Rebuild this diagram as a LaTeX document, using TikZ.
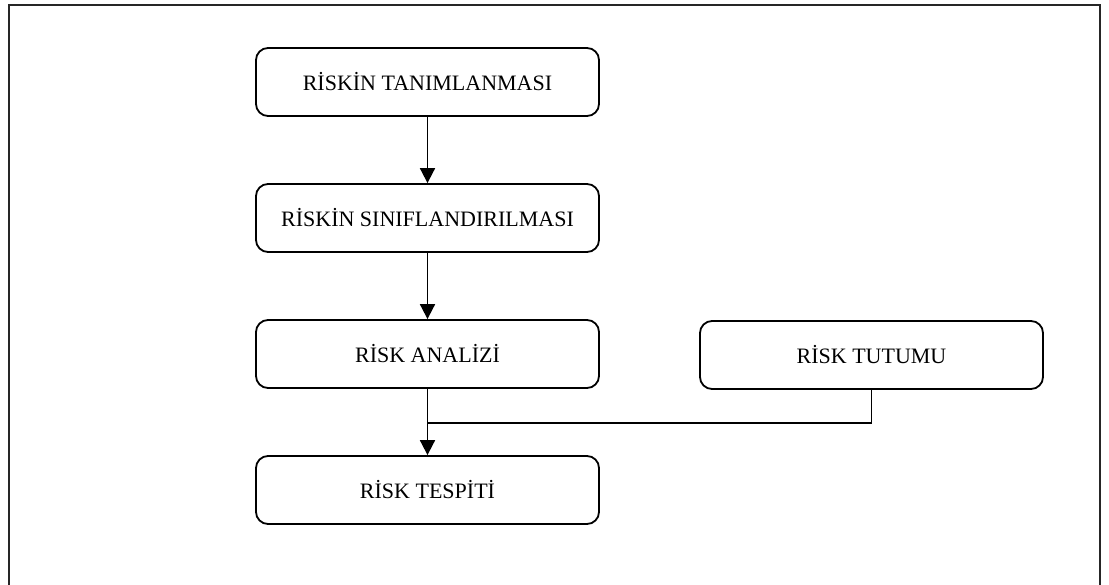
\documentclass[tikz,border=0pt]{standalone}
\usepackage{fontspec}
\setmainfont{Liberation Serif}
\usetikzlibrary{shapes,arrows.meta}

\tikzset{
	riskbox/.style={draw, rounded corners=12pt, line width=1.8pt,
		minimum width=343pt, minimum height=68pt, inner sep=0pt,
		font=\fontsize{22}{26}\selectfont},
	flow/.style={line width=1.8pt, -{Triangle[length=15pt,width=15pt]}},
	link/.style={line width=1.8pt}
}

\begin{document}
\begin{tikzpicture}[x=1pt,y=1pt]
		\useasboundingbox (0,0) rectangle (1109,-585);
		\def\ys{136} %distance between the boxes
		% open frame round the chart
		\draw [line width=1.8pt,black!85](9,-600) -- (9,-5) -- (1100,-5) -- (1100,-600);
		\foreach \n/\t [count=\i] in {tan/RİSKİN TANIMLANMASI,sin/RİSKİN SINIFLANDIRILMASI,ana/RİSK ANALİZİ,tes/RİSK TESPİTİ}
		{
			\node [riskbox] (\n) at (427.5, -82 - \ys * \i + \ys) {\t};
		}
		\node [riskbox] (tut) at (871.5, -355) {RİSK TUTUMU};
		
		\coordinate (join) at (ana.south |- 0,-423);
		\draw [flow](tan) -- (sin);
		\draw [flow](sin) -- (ana);
		\draw [flow](ana) -- (tes);
		\draw [link](tut) |- (join);
\end{tikzpicture}
\end{document}
